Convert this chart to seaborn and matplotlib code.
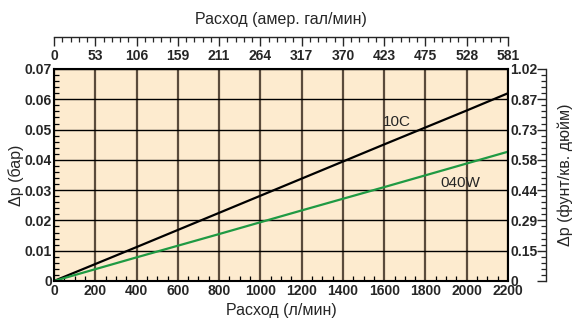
import matplotlib
matplotlib.use("Agg")
import matplotlib.pyplot as plt
from matplotlib.ticker import MultipleLocator, FixedLocator
import pandas as pd
import seaborn as sns

# Flow (l/min) and pressure drop (bar) readings for each element
flow_lpm = [0, 400, 800, 1200, 1600, 2000, 2200]
dp_10c = [0, 0.0112, 0.0225, 0.0338, 0.0451, 0.0563, 0.0620]
dp_040w = [0, 0.0078, 0.0155, 0.0233, 0.0310, 0.0388, 0.0427]

# Axis scales
x_ticks = [0, 200, 400, 600, 800, 1000, 1200, 1400, 1600, 1800, 2000, 2200]
y_ticks = [0, 0.01, 0.02, 0.03, 0.04, 0.05, 0.06, 0.07]
y_labels = ["0", "0.01", "0.02", "0.03", "0.04", "0.05", "0.06", "0.07"]
gpm_labels = ["0", "53", "106", "159", "211", "264", "317", "370", "423", "475", "528", "581"]
psi_labels = ["0", "0.15", "0.29", "0.44", "0.58", "0.73", "0.87", "1.02"]

line_colors = {"10C": "#000000", "040W": "#1f9a43"}

df = pd.concat([
    pd.DataFrame({"flow": flow_lpm, "dp": dp_10c, "model": "10C"}),
    pd.DataFrame({"flow": flow_lpm, "dp": dp_040w, "model": "040W"}),
])

sns.set_style("white")
plt.rcParams["font.family"] = ["Liberation Sans", "DejaVu Sans"]

PX = 72 / 100  # points per pixel at 100 dpi

fig = plt.figure(figsize=(5.74, 3.20), dpi=100)
ax = fig.add_axes([54 / 574, 1 - 281 / 320, 454 / 574, 212 / 320])
ax.set_facecolor("#fdebcf")

XMAX, YMAX = 2200, 0.07
tick_font = dict(fontsize=10, fontweight="bold")
label_size = 11.5

sns.lineplot(data=df, x="flow", y="dp", hue="model", palette=line_colors,
             legend=False, linewidth=1.6, ax=ax)

ax.set_xlim(0, XMAX)
ax.set_ylim(0, YMAX)
ax.set_xticks(x_ticks)
ax.set_xticklabels([str(v) for v in x_ticks], **tick_font)
ax.set_yticks(y_ticks)
ax.set_yticklabels(y_labels, **tick_font)
ax.xaxis.set_minor_locator(MultipleLocator(50))
ax.yaxis.set_minor_locator(MultipleLocator(0.002))
ax.tick_params(axis="x", which="major", length=0, pad=2.5)
ax.tick_params(axis="y", which="major", length=0, pad=1.5)
ax.tick_params(which="minor", direction="in", length=5 * PX, width=0.9, color="black",
               bottom=True, left=True, top=False, right=False)
ax.set_axisbelow(True)
ax.grid(axis="x", which="major", color="#5a4b3c", linewidth=1.6)
ax.grid(axis="y", which="major", color="#000000", linewidth=1.0)
for s in ax.spines.values():
    s.set_color("black")
    s.set_linewidth(1.5)
ax.set_xlabel("Расход (л/мин)", fontsize=label_size, labelpad=3)
ax.set_ylabel("Δp (бар)", fontsize=label_size, labelpad=0.5)

ax.text(1660, 0.0525, "10C", fontsize=11, ha="center", va="center")
ax.text(1970, 0.0325, "040W", fontsize=11, ha="center", va="center")

# Right-hand psi labels next to the plot frame
ax_r = ax.twinx()
ax_r.set_ylim(0, YMAX)
ax_r.set_yticks(y_ticks)
ax_r.set_yticklabels(psi_labels, **tick_font)
ax_r.tick_params(axis="y", length=0, pad=1.5)
for s in ax_r.spines.values():
    s.set_visible(False)

# Detached psi scale with inward ticks
ax_r2 = ax.twinx()
ax_r2.set_ylim(0, YMAX)
ax_r2.yaxis.set_major_locator(FixedLocator(y_ticks))
ax_r2.yaxis.set_minor_locator(MultipleLocator(0.002))
ax_r2.spines["right"].set_position(("outward", 38 * PX))
ax_r2.spines["right"].set_linewidth(1.0)
for k in ("left", "top", "bottom"):
    ax_r2.spines[k].set_visible(False)
ax_r2.tick_params(axis="y", which="major", direction="in", length=9 * PX, width=1.0, labelright=False)
ax_r2.tick_params(axis="y", which="minor", direction="in", length=5 * PX, width=0.9)
ax_r2.set_ylabel("Δp (фунт/кв. дюйм)", fontsize=label_size, labelpad=5, rotation=90)

# Top gpm labels next to the plot frame
ax_t = ax.twiny()
ax_t.set_xlim(0, XMAX)
ax_t.set_xticks(x_ticks)
ax_t.set_xticklabels(gpm_labels, **tick_font)
ax_t.tick_params(axis="x", length=0, pad=4)
for s in ax_t.spines.values():
    s.set_visible(False)

# Detached gpm scale with inward ticks
ax_t2 = ax.twiny()
ax_t2.set_xlim(0, XMAX)
ax_t2.xaxis.set_major_locator(FixedLocator(x_ticks))
ax_t2.xaxis.set_minor_locator(MultipleLocator(40))
ax_t2.spines["top"].set_position(("outward", 32 * PX))
ax_t2.spines["top"].set_linewidth(1.0)
for k in ("left", "right", "bottom"):
    ax_t2.spines[k].set_visible(False)
ax_t2.tick_params(axis="x", which="major", direction="in", length=9 * PX, width=1.0, labeltop=False)
ax_t2.tick_params(axis="x", which="minor", direction="in", length=5 * PX, width=0.9)
ax_t2.set_xlabel("Расход (амер. гал/мин)", fontsize=label_size, labelpad=6)

fig.savefig("out.png", dpi=100)
